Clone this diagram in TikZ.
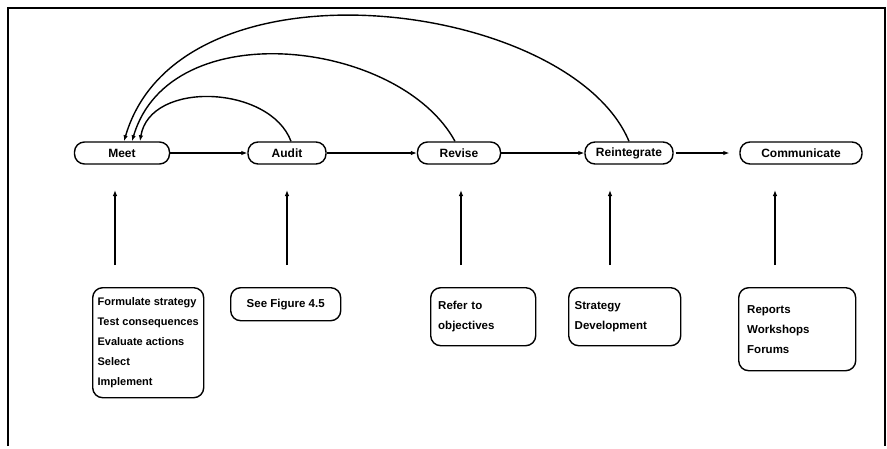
\documentclass[tikz,border=0pt]{standalone}
\usepackage{fontspec}
\setmainfont{Liberation Sans}
\usetikzlibrary{arrows.meta}
\begin{document}
\begin{tikzpicture}[x=1pt,y=-1pt,
  stage/.style={draw, line width=1.4pt, rounded corners=10pt, minimum height=22pt,
    inner sep=2pt, font=\bfseries\fontsize{12}{14}\selectfont},
  note/.style={draw, line width=1.4pt, rounded corners=10pt, align=left,
    anchor=north west, inner sep=4pt, font=\bfseries\fontsize{11.5}{20}\selectfont},
  flow/.style={-{Latex[length=6pt,width=4.5pt]}, line width=1.1pt},
  loop/.style={-{Latex[length=6pt,width=4.5pt]}, line width=1.4pt},
]
\useasboundingbox (0,0) rectangle (887,448);
% outer frame
\draw[line width=2pt] (8,446) -- (8,8) -- (885,8) -- (885,446);

% stages of the cycle
\node[stage, minimum width=95pt]  (meet)  at (122,153) {Meet};
\node[stage, minimum width=78pt]  (audit) at (287,153) {Audit};
\node[stage, minimum width=83pt]  (revise) at (459,153) {Revise};
\node[stage, minimum width=88pt]  (reint) at (629,153) {Reintegrate};
\node[stage, minimum width=122pt] (comm)  at (801,153) {Communicate};

% supporting activities
\node[note, minimum width=111pt, minimum height=110pt, inner xsep=2pt,
      font=\bfseries\fontsize{11}{20}\selectfont] (b1) at (92,287)
  {Formulate strategy\\Test consequences\\Evaluate actions\\Select\\Implement};
\node[note, minimum width=110pt, minimum height=33pt, inner sep=1pt] (b2) at (230,287)
  {See Figure 4.5};
\node[note, minimum width=105pt, minimum height=58pt, text width=90pt] (b3) at (430,287)
  {Refer to\\objectives};
\node[note, minimum width=112pt, minimum height=58pt, text width=100pt] (b4) at (568,287)
  {Strategy\\Development};
\node[note, minimum width=117pt, minimum height=83pt, text width=100pt] (b5) at (738,287)
  {Reports\\Workshops\\Forums};

% main sequence
\draw[flow] (meet) -- (audit);
\draw[flow] (audit) -- (revise);
\draw[flow] (revise) -- (reint);
\draw[flow] ([xshift=2pt]reint.east) -- ([xshift=-10pt]comm.west);

% inputs rising from the boxes
\coordinate (i1a) at (115,265); \coordinate (i1b) at (115,190);
\coordinate (i2a) at (287,265); \coordinate (i2b) at (287,190);
\coordinate (i3a) at (461,265); \coordinate (i3b) at (461,190);
\coordinate (i4a) at (610,265); \coordinate (i4b) at (610,190);
\coordinate (i5a) at (775,265); \coordinate (i5b) at (775,190);
\foreach \k in {1,...,5} \draw[flow] (i\k a) -- (i\k b);

% feedback loops back to Meet
\draw[loop] ([xshift=4pt]audit.north) .. controls (270,85) and (150,80) .. ([xshift=18pt]meet.north);
\draw[loop] ([xshift=-4pt]revise.north) .. controls (400,40) and (170,12) .. ([xshift=10pt]meet.north);
\draw[loop] (reint.north) .. controls (570,0) and (180,-50) .. ([xshift=2pt]meet.north);
\end{tikzpicture}
\end{document}
